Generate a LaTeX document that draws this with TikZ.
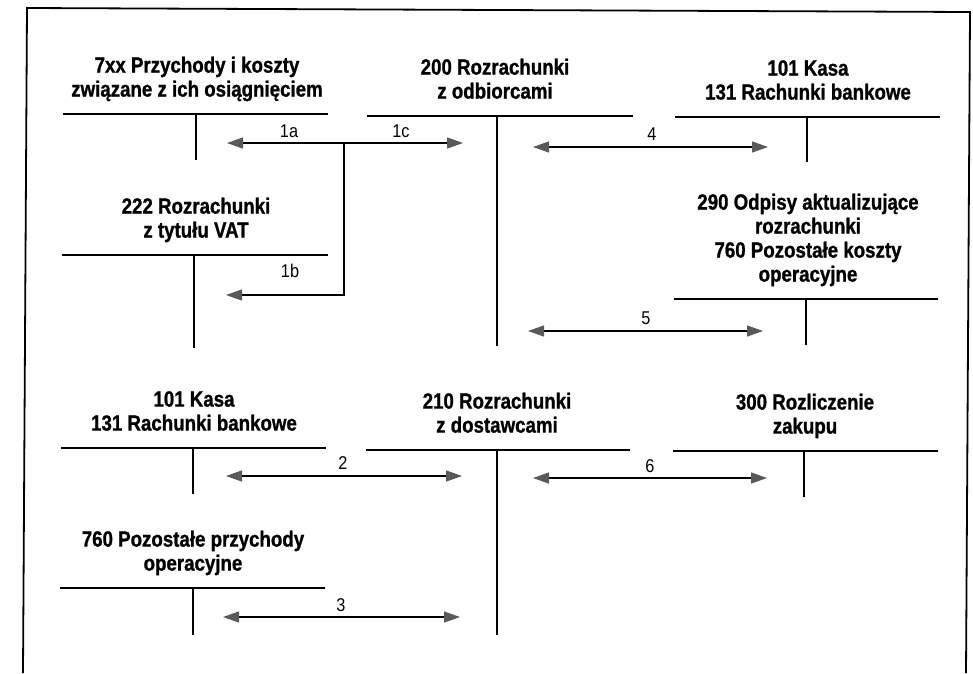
\documentclass[tikz,border=0pt]{standalone}
\usepackage{fontspec}
\newfontfamily\tfont{Liberation Sans}[FakeStretch=0.85, BoldFeatures={FakeBold=1}]
\newfontfamily\lfont{Liberation Sans}[FakeStretch=0.88]
\usetikzlibrary{arrows.meta}
\tikzset{
  title/.style={font=\tfont\bfseries\fontsize{22}{24}\selectfont, align=center, inner sep=0pt, anchor=south},
  lbl/.style={font=\lfont\fontsize{18.5}{20}\selectfont, inner sep=0pt, anchor=base},
  tline/.style={line width=1.4pt},
  frameline/.style={line width=1.8pt, line join=miter},
  flow/.style={line width=1.2pt},
  >={Triangle[length=16pt,width=11pt,color=black!65]}
}
\newcommand\taccount[8]{%
  \coordinate (#1-l) at (#4,#3);
  \coordinate (#1-r) at (#5,#3);
  \coordinate (#1-t) at (#6,#3);
  \coordinate (#1-b) at (#6,#7);
  \draw[tline] (#1-l) -- (#1-r);
  \draw[tline] (#1-t) -- (#1-b);
  \node[title] (#1) at (#2,#3-10) {#8\strut};
}
\begin{document}
\begin{tikzpicture}[x=1pt,y=-1pt]
\useasboundingbox (0,0) rectangle (973,673);
\fill[white] (0,0) rectangle (973,673);
% frame
\coordinate (fr1) at (23,673);
\coordinate (fr2) at (27,8);
\coordinate (fr3) at (970,12);
\coordinate (fr4) at (966,673);
\draw[frameline] (fr1) -- (fr2) -- (fr3) -- (fr4);
% T-accounts
\taccount{acc7xx}{197}{114}{63}{328}{196}{160}{7xx Przychody i koszty\\związane z ich osiągnięciem}
\taccount{acc200}{495}{116}{367}{633}{497}{346}{200 Rozrachunki\\z odbiorcami}
\taccount{acc101a}{808}{117}{675}{940}{807}{162}{101 Kasa\\131 Rachunki bankowe}
\taccount{acc222}{196}{255}{62}{328}{194}{348}{222 Rozrachunki\\z tytułu VAT}
\taccount{acc290}{808}{299}{674}{938}{806}{345}{290 Odpisy aktualizujące\\rozrachunki\\760 Pozostałe koszty\\operacyjne}
\taccount{acc101b}{194}{448}{61}{326}{193}{494}{101 Kasa\\131 Rachunki bankowe}
\taccount{acc210}{497}{450}{366}{630}{497}{635}{210 Rozrachunki\\z dostawcami}
\taccount{acc300}{805}{451}{673}{938}{804}{497}{300 Rozliczenie\\zakupu}
\taccount{acc760}{193}{588}{60}{325}{193}{635}{760 Pozostałe przychody\\operacyjne}
% flows
\coordinate (f1L) at (227,143);
\coordinate (f1R) at (463,143);
\coordinate (f1J) at (344,143);
\coordinate (f1K) at (344,295);
\coordinate (f1B) at (226,295);
\coordinate (f4L) at (533,147);
\coordinate (f4R) at (768,147);
\coordinate (f5L) at (528,331);
\coordinate (f5R) at (763,331);
\coordinate (f2L) at (226,476);
\coordinate (f2R) at (462,476);
\coordinate (f6L) at (533,478);
\coordinate (f6R) at (767,478);
\coordinate (f3L) at (223,617);
\coordinate (f3R) at (460,617);
\draw[flow,<->] (f1L) -- (f1R);
\draw[flow,->] (f1J) -- (f1K) -- (f1B);
\draw[flow,<->] (f4L) -- (f4R);
\draw[flow,<->] (f5L) -- (f5R);
\draw[flow,<->] (f2L) -- (f2R);
\draw[flow,<->] (f6L) -- (f6R);
\draw[flow,<->] (f3L) -- (f3R);
% labels
\node[lbl] (l1a) at (289,137) {1a};
\node[lbl] (l1c) at (401,137) {1c};
\node[lbl] (l1b) at (290,277) {1b};
\node[lbl] (l4) at (652,140) {4};
\node[lbl] (l5) at (646,324) {5};
\node[lbl] (l2) at (343,469) {2};
\node[lbl] (l6) at (650,472) {6};
\node[lbl] (l3) at (341,611) {3};
\end{tikzpicture}
\end{document}
